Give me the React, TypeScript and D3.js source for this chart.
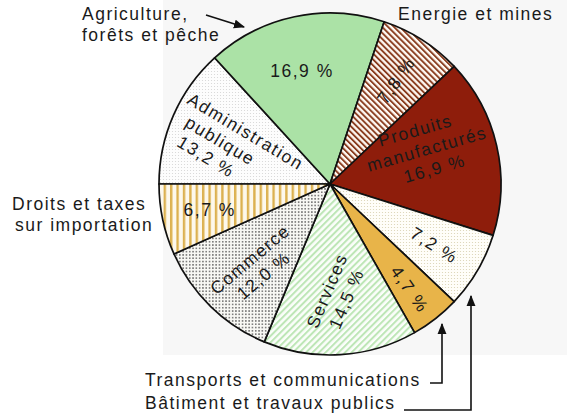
import * as d3 from 'd3';

// Répartition du PIB par secteur (%)
const sectors = [
  'Administration publique',
  'Agriculture, forêts et pêche',
  'Energie et mines',
  'Produits manufacturés',
  'Bâtiment et travaux publics',
  'Transports et communications',
  'Services',
  'Commerce',
  'Droits et taxes sur importation',
];
const shares = [13.2, 16.9, 7.8, 16.9, 7.2, 4.7, 14.5, 12.0, 6.7];
const innerNames = [['Administration', 'publique'], [], [], ['Produits', 'manufacturés'], [], [], ['Services'], ['Commerce'], []];

// layout of the in-slice labels: distance from centre, rotation, per-line shift
const labelRadius = [110, 116, 123, 101, 121, 132, 111, 111, 123];
const labelAngleShift = [-3, -2, 0, -7, 0, 1, 0, -3, 0];
const labelRotation = [31, 0, -55, -16, 32, 55, -67, -40, 0];
const lineShift = [[9, -8, -12], [0], [0], [-4, 2, 4], [0], [0], [0, 0], [0, 0], [0]];

const fills = ['url(#admin)', '#abe2a6', 'url(#energie)', '#8e1d0b', 'url(#batiment)', '#e8b449', 'url(#services)', 'url(#commerce)', 'url(#droits)'];

const fmt = (v: number) => v.toFixed(1).replace('.', ',') + ' %';

const W = 567;
const H = 419;
const cx = 330;
const cy = 184;
const R = 171;
const FONT = '"Liberation Sans", Arial, Helvetica, sans-serif';

export default function App() {
  const pie = d3.pie<number>().sort(null).startAngle(-Math.PI / 2).endAngle((3 * Math.PI) / 2);
  const arcs = pie(shares);
  const arc = d3.arc<d3.PieArcDatum<number>>().innerRadius(0).outerRadius(R);

  return (
    <svg width={W} height={H} style={{ position: 'absolute', left: 0, top: 0, background: '#fff' }} fontFamily={FONT}>
      <defs>
        <pattern id="energie" patternUnits="userSpaceOnUse" width={4.2} height={4.2} patternTransform="rotate(-45)">
          <rect width={4.2} height={4.2} fill="#fffaf4" />
          <rect width={1.9} height={4.2} fill="#8a3d1f" />
        </pattern>
        <pattern id="services" patternUnits="userSpaceOnUse" width={4.6} height={4.6} patternTransform="rotate(45)">
          <rect width={4.6} height={4.6} fill="#fbfefa" />
          <rect width={2} height={4.6} fill="#bde6b6" />
        </pattern>
        <pattern id="droits" patternUnits="userSpaceOnUse" width={6.4} height={6.4}>
          <rect width={6.4} height={6.4} fill="#fdf8ec" />
          <rect width={2.4} height={6.4} fill="#dcb150" />
        </pattern>
        <pattern id="commerce" patternUnits="userSpaceOnUse" width={3.3} height={3.3}>
          <rect width={3.3} height={3.3} fill="#f8f8f4" />
          <circle cx={1.65} cy={1.65} r={0.8} fill="#555" />
        </pattern>
        <pattern id="batiment" patternUnits="userSpaceOnUse" width={3} height={3}>
          <rect width={3} height={3} fill="#fffef9" />
          <circle cx={1.5} cy={1.5} r={0.6} fill="#d9d2b2" />
        </pattern>
        <pattern id="admin" patternUnits="userSpaceOnUse" width={3} height={3}>
          <rect width={3} height={3} fill="#fdfdfd" />
          <circle cx={1.5} cy={1.5} r={0.55} fill="#d4d4d4" />
        </pattern>
        <marker id="arrow" viewBox="0 0 10 10" refX={9} refY={5} markerWidth={7} markerHeight={7} orient="auto">
          <path d="M0,1 L10,5 L0,9 Z" fill="#111" />
        </marker>
      </defs>

      <rect x={163} y={0} width={W - 163} height={355} fill="#f7f7f7" />

      <g transform={`translate(${cx},${cy})`}>
        {arcs.map((a, i) => (
          <path key={sectors[i]} d={arc(a) || ''} fill={fills[i]} stroke="#111" strokeWidth={1.7} strokeLinejoin="round" />
        ))}
        {arcs.map((a, i) => {
          const mid = (a.startAngle + a.endAngle) / 2 + (labelAngleShift[i] * Math.PI) / 180;
          const x = labelRadius[i] * Math.sin(mid);
          const y = -labelRadius[i] * Math.cos(mid);
          const lines = [...innerNames[i], fmt(shares[i])];
          const lh = 21;
          return (
            <text
              key={'l' + i}
              transform={`translate(${x},${y}) rotate(${labelRotation[i]})`}
              textAnchor="middle"
              fontSize={17.5}
              letterSpacing={1.5}
              fill="#1a1a1a"
            >
              {lines.map((t, j) => (
                <tspan key={j} x={lineShift[i][j] || 0} y={(j - (lines.length - 1) / 2) * lh + 6}>
                  {t}
                </tspan>
              ))}
            </text>
          );
        })}
      </g>

      <g fontSize={17.5} letterSpacing={1.5} fill="#1a1a1a">
        <text x={82} y={20}>Agriculture,</text>
        <text x={82} y={41}>forêts et pêche</text>
        <text x={398} y={20}>Energie et mines</text>
        <text x={12} y={210}>Droits et taxes</text>
        <text x={15} y={231}>sur importation</text>
        <text x={145} y={386}>Transports et communications</text>
        <text x={145} y={409}>Bâtiment et travaux publics</text>
      </g>

      <g stroke="#111" strokeWidth={1.6} fill="none">
        <path d="M206,15 L244,27" markerEnd="url(#arrow)" />
        <path d="M430,383 H442 V324" markerEnd="url(#arrow)" />
        <path d="M404,410 H471 V296" markerEnd="url(#arrow)" />
      </g>
    </svg>
  );
}
